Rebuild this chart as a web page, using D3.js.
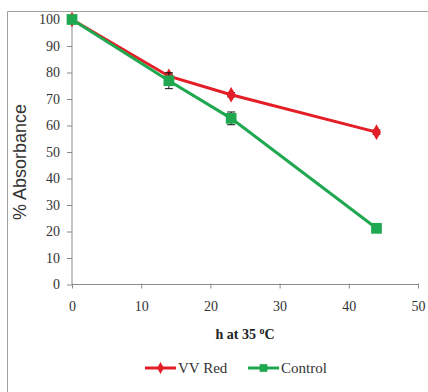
<!DOCTYPE html>
<html>
<head>
<meta charset="utf-8">
<script src="https://cdn.jsdelivr.net/npm/d3@7"></script>
<style>
  body { margin: 0; background: #fff; }
  svg { display: block; }
</style>
</head>
<body>
<script>
const hours = [0, 14, 23, 44]
const vvRed = [100, 78.6, 71.6, 57.5]
const vvRedErr = [0, 0.8, 0.8, 0.8]
const control = [100, 76.9, 62.7, 21.2]
const controlErr = [0, 3, 2.4, 0.6]
const xTicks = [0, 10, 20, 30, 40, 50]
const yTicks = [0, 10, 20, 30, 40, 50, 60, 70, 80, 90, 100]

const W = 428, H = 392
const RED = '#e41e26', GREEN = '#1fa84f', AXIS = '#8a8a8a', TEXT = '#333'
const SERIF = '"Liberation Serif", "Times New Roman", serif'

const svg = d3.select('body').append('svg')
  .attr('width', W).attr('height', H)

// outer frame
svg.append('path')
  .attr('d', `M7.5,${H} V11.5 H${W}`)
  .attr('fill', 'none').attr('stroke', '#a0a0a0').attr('stroke-width', 1)

const x = d3.scaleLinear().domain([0, 50]).range([72, 418])
const y = d3.scaleLinear().domain([0, 100]).range([284.5, 19.5])

// y axis
const yAxis = svg.append('g')
  .attr('transform', `translate(${x(0)},0)`)
  .call(d3.axisLeft(y).tickValues(yTicks).tickSize(5).tickPadding(7))
yAxis.select('.domain').attr('stroke', AXIS).attr('d', `M-5,${y(100)}H0V${y(0)}`)
yAxis.selectAll('.tick line').attr('stroke', AXIS)
yAxis.selectAll('text')
  .attr('font-family', SERIF)
  .attr('font-size', 14).attr('fill', TEXT)

// x axis
const xAxis = svg.append('g')
  .attr('transform', `translate(0,${y(0)})`)
  .call(d3.axisBottom(x).tickValues(xTicks).tickSize(0).tickPadding(17))
xAxis.select('.domain').attr('stroke', AXIS).attr('d', `M${x(0)},0H${x(50)}`)
xAxis.selectAll('.tick').append('line')
  .attr('y1', -1).attr('y2', 4).attr('stroke', AXIS)
xAxis.selectAll('text')
  .attr('font-family', SERIF)
  .attr('font-size', 14).attr('fill', TEXT)

// axis titles
svg.append('text')
  .attr('transform', `translate(26,${162}) rotate(-90)`)
  .attr('text-anchor', 'middle')
  .attr('font-family', '"Liberation Sans", Arial, sans-serif')
  .attr('font-size', 18).attr('fill', TEXT)
  .text('% Absorbance')

const xTitle = svg.append('text')
  .attr('x', 245).attr('y', 339)
  .attr('text-anchor', 'middle')
  .attr('font-family', SERIF)
  .attr('font-weight', 'bold').attr('font-size', 14).attr('fill', '#222')
xTitle.append('tspan').text('h at 35 ')
xTitle.append('tspan').attr('font-size', 10).attr('dy', -5).text('o')
xTitle.append('tspan').attr('dy', 5).text('C')

const series = [
  { name: 'VV Red', values: vvRed, err: vvRedErr, color: RED, shape: d3.symbolDiamond, size: 70 },
  { name: 'Control', values: control, err: controlErr, color: GREEN, shape: d3.symbolSquare, size: 115 },
]

const line = d3.line().x(d => x(d[0])).y(d => y(d[1]))

series.forEach(s => {
  const pts = hours.map((h, i) => [h, s.values[i], s.err[i]])
  const g = svg.append('g')
  // error bars
  pts.filter(p => p[2] > 0).forEach(p => {
    g.append('path')
      .attr('d', `M${x(p[0])},${y(p[1] - p[2])}V${y(p[1] + p[2])}M${x(p[0]) - 4},${y(p[1] - p[2])}H${x(p[0]) + 4}M${x(p[0]) - 4},${y(p[1] + p[2])}H${x(p[0]) + 4}`)
      .attr('stroke', '#111').attr('stroke-width', 1).attr('fill', 'none')
  })
  g.append('path').datum(pts)
    .attr('d', line)
    .attr('fill', 'none').attr('stroke', s.color).attr('stroke-width', 3)
  g.selectAll('.m').data(pts).enter().append('path')
    .attr('transform', d => `translate(${x(d[0])},${y(d[1])})`)
    .attr('d', d3.symbol().type(s.shape).size(s.size))
    .attr('fill', s.color)
})

// legend
const legend = svg.append('g').attr('transform', 'translate(0,368)')
const legendItems = [
  { s: series[0], x0: 145, size: 40 },
  { s: series[1], x0: 248, size: 60 },
]
legendItems.forEach(it => {
  legend.append('line')
    .attr('x1', it.x0).attr('x2', it.x0 + 31)
    .attr('stroke', it.s.color).attr('stroke-width', 3)
  legend.append('path')
    .attr('transform', `translate(${it.x0 + 15.5},0)`)
    .attr('d', d3.symbol().type(it.s.shape).size(it.size))
    .attr('fill', it.s.color)
  legend.append('text')
    .attr('x', it.x0 + 33).attr('y', 5)
    .attr('font-family', SERIF)
    .attr('font-size', 15).attr('fill', TEXT)
    .text(it.s.name)
})
</script>
</body>
</html>
